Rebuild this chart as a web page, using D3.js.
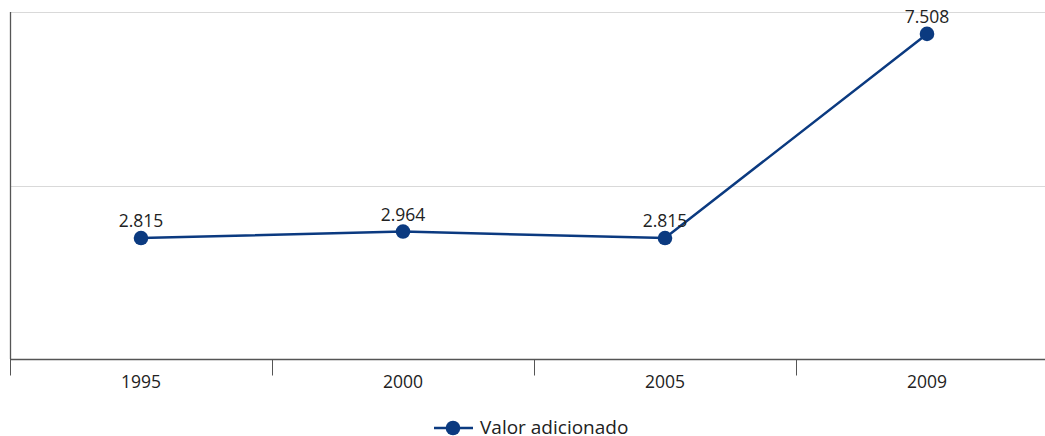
<!DOCTYPE html>
<html>
<head>
<meta charset="utf-8">
<script src="https://cdn.jsdelivr.net/npm/d3@7"></script>
<style>
  html, body { margin: 0; padding: 0; background: #fff; }
  svg { display: block; font-family: "Open Sans", "Noto Sans", sans-serif; }
</style>
</head>
<body>
<svg id="chart" width="1045" height="436"></svg>
<script>
// Valor adicionado por ano
const years = ["1995", "2000", "2005", "2009"];
const values = [2.815, 2.964, 2.815, 7.508];
const gridTicks = [0, 4, 8];
const seriesName = "Valor adicionado";

(function () {
  const color = "#0b3a80";
  const svg = d3.select("#chart");

  const plotLeft = 10, plotTop = 12, plotBottom = 359;
  const bandW = 262;

  const x = d3.scaleBand().domain(years).range([plotLeft, plotLeft + bandW * years.length]);
  const y = d3.scaleLinear().domain([0, 8]).range([plotBottom + 1.5, plotTop + 0.5]);

  // horizontal gridlines
  svg.append("g").selectAll("line").data(gridTicks.filter(d => d > 0)).join("line")
    .attr("x1", plotLeft).attr("x2", 1045)
    .attr("y1", d => Math.floor(y(d)) + 0.5).attr("y2", d => Math.floor(y(d)) + 0.5)
    .attr("stroke", "#d9d9d9").attr("stroke-width", 1);

  // left axis line
  svg.append("line")
    .attr("x1", plotLeft + 0.5).attr("x2", plotLeft + 0.5)
    .attr("y1", plotTop).attr("y2", plotBottom)
    .attr("stroke", "#555").attr("stroke-width", 1.3);

  // bottom axis with band boundary ticks
  const xAxis = svg.append("g").attr("transform", `translate(0,${plotBottom + 0.5})`);
  xAxis.append("line").attr("x1", plotLeft).attr("x2", 1045).attr("stroke", "#555").attr("stroke-width", 1.3);
  xAxis.selectAll("line.tick").data(years).join("line")
    .attr("class", "tick")
    .attr("x1", d => Math.round(x(d)) + 0.5).attr("x2", d => Math.round(x(d)) + 0.5)
    .attr("y1", 0).attr("y2", 16)
    .attr("stroke", "#555").attr("stroke-width", 1);
  xAxis.selectAll("text").data(years).join("text")
    .attr("x", d => x(d) + x.bandwidth() / 2)
    .attr("y", 28)
    .attr("text-anchor", "middle")
    .attr("font-size", 17.5)
    .attr("fill", "#222")
    .text(d => d);

  const pts = years.map((yr, i) => ({ yr, v: values[i] }));
  const cx = d => x(d.yr) + x.bandwidth() / 2;

  // series line
  svg.append("path")
    .datum(pts)
    .attr("fill", "none")
    .attr("stroke", color)
    .attr("stroke-width", 2.5)
    .attr("d", d3.line().x(cx).y(d => y(d.v)));

  svg.append("g").selectAll("circle").data(pts).join("circle")
    .attr("cx", cx).attr("cy", d => y(d.v)).attr("r", 7.3)
    .attr("fill", color);

  const fmt = v => v.toFixed(3);
  svg.append("g").selectAll("text").data(pts).join("text")
    .attr("x", cx).attr("y", d => y(d.v) - 11)
    .attr("text-anchor", "middle")
    .attr("font-size", 17.5)
    .attr("fill", "#222")
    .text(d => fmt(d.v));

  // legend
  const lg = svg.append("g").attr("transform", "translate(434,428)");
  lg.append("line").attr("x1", 0).attr("x2", 39).attr("stroke", color).attr("stroke-width", 2.5);
  lg.append("circle").attr("cx", 19).attr("r", 7.3).attr("fill", color);
  lg.append("text").attr("x", 46).attr("y", 5.5).attr("font-size", 19).attr("fill", "#222").text(seriesName);
})();
</script>
</body>
</html>
